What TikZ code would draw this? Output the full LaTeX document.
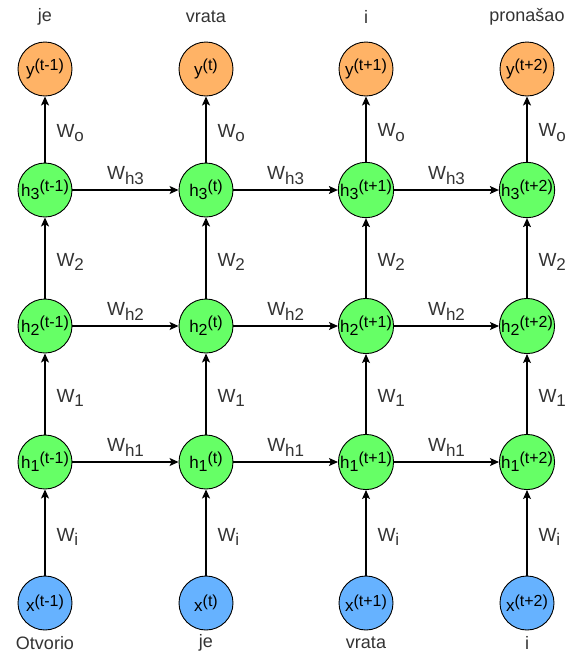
\documentclass[tikz,border=0pt]{standalone}
\usepackage{fontspec}
\setmainfont{Liberation Sans}
\usetikzlibrary{arrows.meta}
\usetikzlibrary{positioning}
\definecolor{outorange}{HTML}{FFB366}
\definecolor{hidgreen}{HTML}{66FF66}
\definecolor{inblue}{HTML}{66B2FF}
\definecolor{labelgray}{HTML}{333333}
\newcommand{\hi}[1]{\raisebox{0.5ex}{\fontsize{16}{16}\selectfont #1}}
\newcommand{\lo}[1]{\raisebox{-0.4ex}{\fontsize{16}{16}\selectfont #1}}
\newcommand{\wlo}[1]{\raisebox{-0.45ex}{\fontsize{17}{17}\selectfont #1}}
\tikzset{unit/.style = {draw, circle, line width = 0.9, inner sep = 0, minimum size = 54,
                        font = \fontsize{17}{17}\selectfont}}
\tikzset{outunit/.style = {unit, fill = outorange}}
\tikzset{hidunit/.style = {unit, fill = hidgreen}}
\tikzset{inunit/.style = {unit, fill = inblue}}
\tikzset{word/.style = {text = labelgray, font = \fontsize{18}{18}\selectfont}}
\tikzset{wlabel/.style = {text = labelgray, font = \fontsize{19}{19}\selectfont, inner sep = 2pt}}
\tikzset{link/.style = {line width = 1.1, -{Stealth[length = 9, width = 8, inset = 2]}}}

\begin{document}
\begin{tikzpicture}[x = 1pt, y = -1pt]
    \useasboundingbox (0, 0) rectangle (566, 657);
    % output layer
    \node [outunit] (y-1) at (45, 69) {y\hi{(t-1)}};
    \node [outunit] (y-2) at (206, 69) {y\hi{(t)}};
    \node [outunit] (y-3) at (366, 69) {y\hi{(t+1)}};
    \node [outunit] (y-4) at (527, 69) {y\hi{(t+2)}};
    % hidden layers
    \node [hidunit] (h3-1) at (45, 190) {h\lo{3}\hi{(t-1)}};
    \node [hidunit] (h3-2) at (206, 190) {h\lo{3}\hi{(t)}};
    \node [hidunit] (h3-3) at (366, 190) {h\lo{3}\hi{(t+1)}};
    \node [hidunit] (h3-4) at (527, 190) {h\lo{3}\hi{(t+2)}};
    \node [hidunit] (h2-1) at (45, 326) {h\lo{2}\hi{(t-1)}};
    \node [hidunit] (h2-2) at (206, 326) {h\lo{2}\hi{(t)}};
    \node [hidunit] (h2-3) at (366, 326) {h\lo{2}\hi{(t+1)}};
    \node [hidunit] (h2-4) at (527, 326) {h\lo{2}\hi{(t+2)}};
    \node [hidunit] (h1-1) at (45, 462) {h\lo{1}\hi{(t-1)}};
    \node [hidunit] (h1-2) at (206, 462) {h\lo{1}\hi{(t)}};
    \node [hidunit] (h1-3) at (366, 462) {h\lo{1}\hi{(t+1)}};
    \node [hidunit] (h1-4) at (527, 462) {h\lo{1}\hi{(t+2)}};
    % input layer
    \node [inunit] (x-1) at (45, 603) {x\hi{(t-1)}};
    \node [inunit] (x-2) at (206, 603) {x\hi{(t)}};
    \node [inunit] (x-3) at (366, 603) {x\hi{(t+1)}};
    \node [inunit] (x-4) at (527, 603) {x\hi{(t+2)}};
    % words
    \node [word] (out-1) at (45, 17) {je};
    \node [word] (out-2) at (206, 17) {vrata};
    \node [word] (out-3) at (366, 17) {i};
    \node [word] (out-4) at (527, 17) {pronašao};
    \node [word] (in-1) at (45, 643) {Otvorio};
    \node [word] (in-2) at (206, 643) {je};
    \node [word] (in-3) at (366, 643) {vrata};
    \node [word] (in-4) at (527, 643) {i};
    % vertical connections
    \draw [link] (x-1) -- node [wlabel, right = 9pt, pos = 0.45] {W\wlo{i}} (h1-1);
    \draw [link] (x-2) -- node [wlabel, right = 9pt, pos = 0.45] {W\wlo{i}} (h1-2);
    \draw [link] (x-3) -- node [wlabel, right = 9pt, pos = 0.45] {W\wlo{i}} (h1-3);
    \draw [link] (x-4) -- node [wlabel, right = 9pt, pos = 0.45] {W\wlo{i}} (h1-4);
    \draw [link] (h1-1) -- node [wlabel, right = 9pt, pos = 0.45] {W\wlo{1}} (h2-1);
    \draw [link] (h1-2) -- node [wlabel, right = 9pt, pos = 0.45] {W\wlo{1}} (h2-2);
    \draw [link] (h1-3) -- node [wlabel, right = 9pt, pos = 0.45] {W\wlo{1}} (h2-3);
    \draw [link] (h1-4) -- node [wlabel, right = 9pt, pos = 0.45] {W\wlo{1}} (h2-4);
    \draw [link] (h2-1) -- node [wlabel, right = 9pt, pos = 0.45] {W\wlo{2}} (h3-1);
    \draw [link] (h2-2) -- node [wlabel, right = 9pt, pos = 0.45] {W\wlo{2}} (h3-2);
    \draw [link] (h2-3) -- node [wlabel, right = 9pt, pos = 0.45] {W\wlo{2}} (h3-3);
    \draw [link] (h2-4) -- node [wlabel, right = 9pt, pos = 0.45] {W\wlo{2}} (h3-4);
    \draw [link] (h3-1) -- node [wlabel, right = 9pt, pos = 0.45] {W\wlo{o}} (y-1);
    \draw [link] (h3-2) -- node [wlabel, right = 9pt, pos = 0.45] {W\wlo{o}} (y-2);
    \draw [link] (h3-3) -- node [wlabel, right = 9pt, pos = 0.45] {W\wlo{o}} (y-3);
    \draw [link] (h3-4) -- node [wlabel, right = 9pt, pos = 0.45] {W\wlo{o}} (y-4);
    % recurrent connections
    \draw [link] (h1-1) -- node [wlabel, above = 3pt] {W\wlo{h1}} (h1-2);
    \draw [link] (h1-2) -- node [wlabel, above = 3pt] {W\wlo{h1}} (h1-3);
    \draw [link] (h1-3) -- node [wlabel, above = 3pt] {W\wlo{h1}} (h1-4);
    \draw [link] (h2-1) -- node [wlabel, above = 3pt] {W\wlo{h2}} (h2-2);
    \draw [link] (h2-2) -- node [wlabel, above = 3pt] {W\wlo{h2}} (h2-3);
    \draw [link] (h2-3) -- node [wlabel, above = 3pt] {W\wlo{h2}} (h2-4);
    \draw [link] (h3-1) -- node [wlabel, above = 3pt] {W\wlo{h3}} (h3-2);
    \draw [link] (h3-2) -- node [wlabel, above = 3pt] {W\wlo{h3}} (h3-3);
    \draw [link] (h3-3) -- node [wlabel, above = 3pt] {W\wlo{h3}} (h3-4);
\end{tikzpicture}
\end{document}
